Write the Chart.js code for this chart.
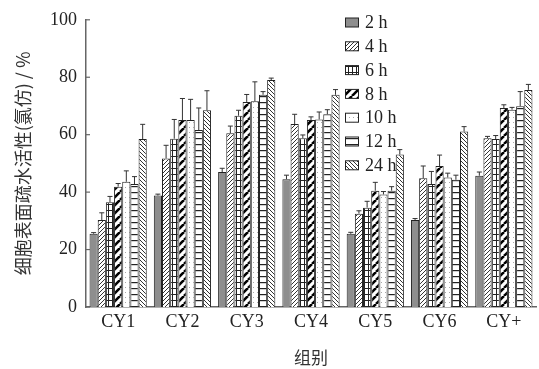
<!DOCTYPE html>
<html>
<head>
<meta charset="utf-8">
<script src="https://cdn.jsdelivr.net/npm/chart.js@4.4.1/dist/chart.umd.min.js"></script>
<style>
  body { margin: 0; background: #fff; }
</style>
</head>
<body>
<canvas id="chart" width="539" height="369"></canvas>
<script>
// categories and series
const groups = ['CY1', 'CY2', 'CY3', 'CY4', 'CY5', 'CY6', 'CY+'];
const times = ['2 h', '4 h', '6 h', '8 h', '10 h', '12 h', '24 h'];

const h2  = [25.5, 38.8, 47.0, 44.5, 25.5, 30.3, 45.7];
const h4  = [30.3, 51.7, 60.5, 63.7, 32.5, 44.8, 58.8];
const h6  = [36.5, 58.6, 66.6, 58.8, 34.6, 42.8, 58.5];
const h8  = [41.9, 65.1, 71.4, 65.1, 40.5, 49.1, 69.3];
const h10 = [43.6, 65.1, 71.6, 65.3, 39.2, 45.1, 68.7];
const h12 = [42.8, 61.6, 73.9, 67.1, 40.5, 44.3, 69.9];
const h24 = [58.5, 68.5, 79.0, 73.9, 53.1, 61.1, 75.6];

// error bars (upper half only)
const e2  = [0.4, 0.5, 1.3, 1.4, 0.5, 0.5, 1.3];
const e4  = [2.5, 4.6, 2.5, 3.4, 1.0, 4.3, 0.6];
const e6  = [2.0, 6.7, 1.9, 1.1, 2.2, 4.4, 1.2];
const e8  = [1.1, 7.5, 2.6, 1.1, 2.9, 3.8, 1.1];
const e10 = [3.8, 7.2, 6.8, 2.6, 1.0, 1.5, 0.8];
const e12 = [2.6, 7.7, 1.1, 1.6, 1.4, 1.6, 5.1];
const e24 = [5.1, 6.8, 0.7, 1.8, 1.7, 1.7, 1.9];

const yTicks = [0, 20, 40, 60, 80, 100];

// hatch fills
function makePattern(kind) {
  const c = document.createElement('canvas');
  const g = c.getContext('2d');
  let w = 4, h = 4;
  if (kind === 'grid') { w = 4; h = 6; }
  if (kind === 'bold') { w = 8; h = 8; }
  if (kind === 'hlines') { w = 6; h = 6; }
  if (kind === 'dots') { w = 4; h = 5; }
  c.width = w; c.height = h;
  g.fillStyle = '#fff';
  g.fillRect(0, 0, w, h);
  g.strokeStyle = '#333';
  g.lineWidth = 1;
  if (kind === 'diagR' || kind === 'bold') {
    if (kind === 'bold') { g.strokeStyle = '#000'; g.lineWidth = 2.6; }
    g.beginPath();
    for (let k = -1; k <= 1; k++) {
      g.moveTo(k * w, h);
      g.lineTo(k * w + w, 0);
    }
    g.stroke();
  } else if (kind === 'diagL') {
    g.beginPath();
    for (let k = -1; k <= 1; k++) {
      g.moveTo(k * w, 0);
      g.lineTo(k * w + w, h);
    }
    g.stroke();
  } else if (kind === 'grid') {
    g.fillStyle = '#222';
    g.fillRect(0, 0, w, 1);
    g.fillRect(0, 0, 1, h);
  } else if (kind === 'hlines') {
    g.fillStyle = '#222';
    g.fillRect(0, 0, w, 1.2);
  } else if (kind === 'dots') {
    g.fillStyle = '#aaa';
    g.fillRect(1, 2, 1, 1);
  }
  return g.createPattern(c, 'repeat');
}

const fills = [
  '#8e8e8e',
  makePattern('diagR'),
  makePattern('grid'),
  makePattern('bold'),
  makePattern('dots'),
  makePattern('hlines'),
  makePattern('diagL')
];

const values = [h2, h4, h6, h8, h10, h12, h24];
const errs = [e2, e4, e6, e8, e10, e12, e24];

const datasets = times.map((t, i) => ({
  label: t,
  data: values[i],
  err: errs[i],
  backgroundColor: fills[i],
  borderColor: '#222',
  borderWidth: 1,
  borderSkipped: 'bottom',
  barPercentage: 1.0,
  categoryPercentage: 0.89
}));

const serif = 'Liberation Serif, Times New Roman, serif';

// error whiskers on top of the bars
const errorBars = {
  id: 'errorBars',
  afterDatasetsDraw(chart) {
    const ctx = chart.ctx;
    const y = chart.scales.y;
    ctx.save();
    ctx.strokeStyle = '#333';
    ctx.lineWidth = 1;
    chart.data.datasets.forEach((ds, i) => {
      const meta = chart.getDatasetMeta(i);
      meta.data.forEach((bar, j) => {
        const y0 = y.getPixelForValue(ds.data[j]);
        const y1 = y.getPixelForValue(ds.data[j] + ds.err[j]);
        ctx.beginPath();
        ctx.moveTo(bar.x, y0);
        ctx.lineTo(bar.x, y1);
        ctx.moveTo(bar.x - 2.5, y1);
        ctx.lineTo(bar.x + 2.5, y1);
        ctx.stroke();
      });
    });
    ctx.restore();
  }
};

// inward tick marks and the vertical legend
const extras = {
  id: 'extras',
  afterDraw(chart) {
    const ctx = chart.ctx;
    const y = chart.scales.y;
    const left = chart.chartArea.left;
    ctx.save();
    ctx.strokeStyle = '#666';
    ctx.lineWidth = 1.2;
    yTicks.forEach(v => {
      const py = y.getPixelForValue(v);
      ctx.beginPath();
      ctx.moveTo(left, py);
      ctx.lineTo(left + 4, py);
      ctx.stroke();
    });

    // legend
    ctx.font = '18px ' + serif;
    ctx.textBaseline = 'middle';
    ctx.fillStyle = '#222';
    chart.data.datasets.forEach((ds, i) => {
      const cy = 22.5 + i * 23.8;
      ctx.fillStyle = ds.backgroundColor;
      ctx.fillRect(345, cy - 4.5, 14, 9);
      ctx.strokeStyle = '#222';
      ctx.lineWidth = 1;
      ctx.strokeRect(345.5, cy - 4.5, 13, 9);
      ctx.fillStyle = '#222';
      ctx.fillText(ds.label, 365, cy + 1);
    });
    ctx.restore();
  }
};

new Chart(document.getElementById('chart'), {
  type: 'bar',
  data: { labels: groups, datasets: datasets },
  options: {
    responsive: false,
    animation: false,
    layout: { padding: { top: 15, right: 3, bottom: 0, left: 0 } },
    plugins: {
      legend: { display: false },
      tooltip: { enabled: false }
    },
    scales: {
      x: {
        grid: { display: false, drawTicks: false },
        border: { display: true, color: '#666', width: 1.5 },
        ticks: { font: { family: serif, size: 18 }, color: '#222', padding: 4 },
        title: {
          display: true,
          text: '组别',
          font: { family: 'Noto Sans CJK SC', size: 17 },
          color: '#333',
          padding: { top: 0, bottom: 1 }
        },
        afterFit(scale) { scale.height = 62; }
      },
      y: {
        min: 0,
        max: 100,
        afterBuildTicks(scale) { scale.ticks = yTicks.map(v => ({ value: v })); },
        grid: { display: false, drawTicks: false },
        border: { display: true, color: '#666', width: 1.5 },
        ticks: { font: { family: serif, size: 18 }, color: '#222', padding: 9 },
        title: {
          display: true,
          text: '细胞表面疏水活性(氯仿) / %',
          font: { family: 'Noto Sans CJK SC', size: 18 },
          color: '#333',
          padding: { top: 12, bottom: 0 }
        },
        afterFit(scale) { scale.width = 86; }
      }
    }
  },
  plugins: [errorBars, extras]
});
</script>
</body>
</html>
